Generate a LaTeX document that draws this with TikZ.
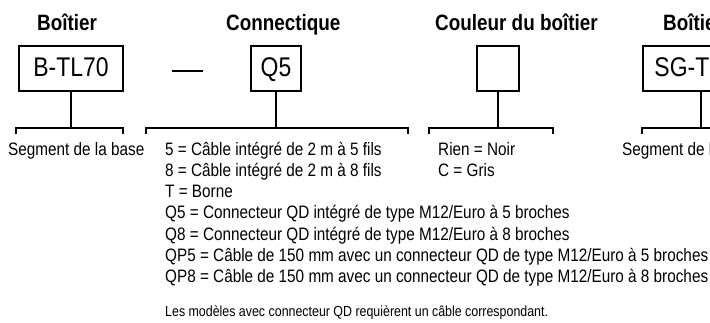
\documentclass[tikz,border=0pt]{standalone}
\usepackage{fontspec}
\setmainfont{Liberation Sans}[FakeStretch=0.85]
\begin{document}
\begin{tikzpicture}[x=1pt,y=-1pt,
  ln/.style={line width=1.6pt},
  ttl/.style={font=\fontsize{22.2}{25}\selectfont\bfseries, inner sep=0, anchor=base west},
  codebox/.style={draw, line width=1.6pt, font=\fontsize{27}{30}\selectfont, inner sep=0, minimum height=45pt, text depth=3pt},
  item/.style={font=\fontsize{18}{21}\selectfont, inner sep=0, anchor=base west},
  note/.style={font=\fontsize{14.6}{17}\selectfont, inner sep=0, anchor=base west}]
\clip (0,0) rectangle (710,322);
\fill[white] (0,0) rectangle (710,322);
% titles
\node[ttl] (t1) at (37,30.5) {Boîtier};
\node[ttl] (t2) at (226,30.5) {Connectique};
\node[ttl] (t3) at (435,30.5) {Couleur du boîtier};
\node[ttl] (t4) at (663,30.5) {Boîtier};
% boxes
\node[codebox, minimum width=104pt] (b1) at (71,68.5) {B-TL70};
\node[codebox, minimum width=50pt] (b2) at (276,68.5) {Q5};
\node[codebox, minimum width=42pt] (b3) at (498,68.5) {};
\node[codebox, minimum width=116pt] (b4) at (701,68.5) {SG-TL70};
% dash
\coordinate (d1) at (172,71);
\coordinate (d2) at (203,71);
\draw[line width=1.3pt] (d1) -- (d2);
% bracket coordinates
\coordinate (k1l) at (16,128);  \coordinate (k1r) at (123,128);
\coordinate (k2l) at (146,128); \coordinate (k2r) at (408,128);
\coordinate (k3l) at (429,128); \coordinate (k3r) at (553,128);
\coordinate (k4l) at (642,128); \coordinate (k4r) at (760,128);
% stems
\draw[ln] (b1.south) -- (b1.south |- k1l);
\draw[ln] (b2.south) -- (b2.south |- k2l);
\draw[ln] (b3.south) -- (b3.south |- k3l);
\draw[ln] (b4.south) -- (b4.south |- k4l);
% brackets
\foreach \k in {1,2,3,4}{
  \draw[ln] ([yshift=-6pt]k\k l) -- (k\k l) -- (k\k r) -- ([yshift=-6pt]k\k r);
}
% texts
\node[item] (s1) at (8,155) {Segment de la base};
\node[item] (c1) at (165,155) {5 = Câble intégré de 2 m à 5 fils};
\node[item] (c2) at (165,176.3) {8 = Câble intégré de 2 m à 8 fils};
\node[item] (c3) at (165,197.6) {T = Borne};
\node[item] (c4) at (165,218.9) {Q5 = Connecteur QD intégré de type M12/Euro à 5 broches};
\node[item] (c5) at (165,240.2) {Q8 = Connecteur QD intégré de type M12/Euro à 8 broches};
\node[item] (c6) at (165,261.5) {QP5 = Câble de 150 mm avec un connecteur QD de type M12/Euro à 5 broches};
\node[item] (c7) at (165,282.8) {QP8 = Câble de 150 mm avec un connecteur QD de type M12/Euro à 8 broches};
\node[note] (n1) at (165,316) {Les modèles avec connecteur QD requièrent un câble correspondant.};
\node[item] (r1) at (438,155) {Rien = Noir};
\node[item] (r2) at (438,176.3) {C = Gris};
\node[item] (s4) at (622,155) {Segment de la base};
\end{tikzpicture}
\end{document}
